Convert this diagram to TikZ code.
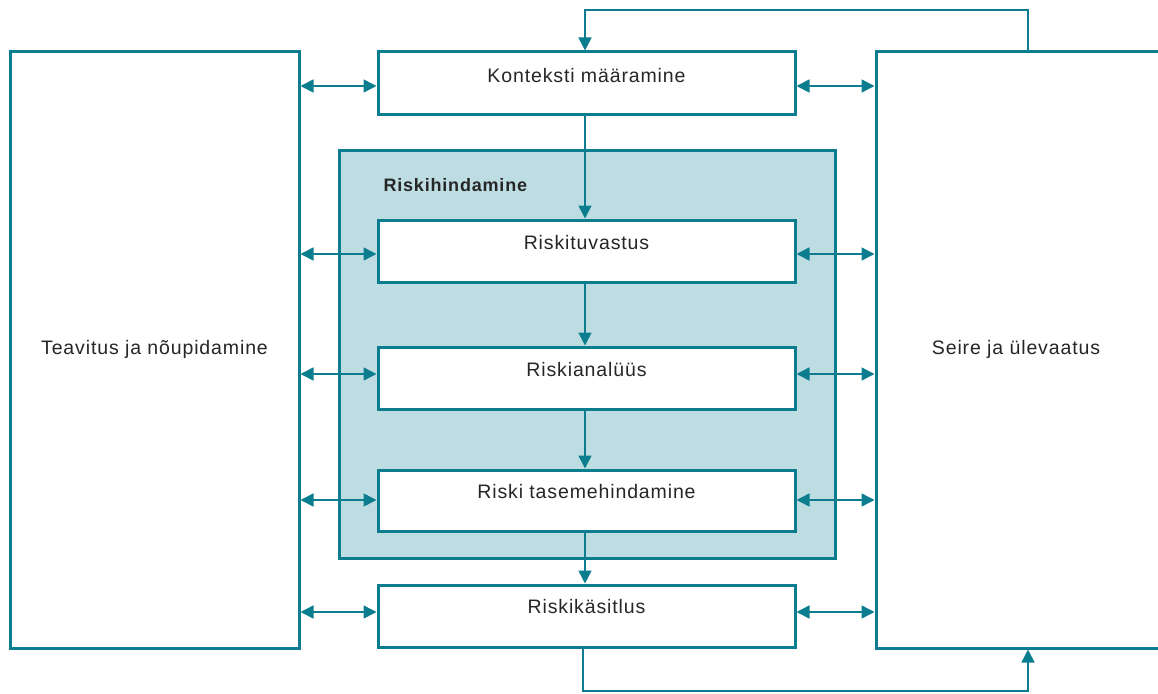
\documentclass[tikz,border=0pt]{standalone}
\usepackage{fontspec}
\setmainfont[LetterSpace=4.5]{Liberation Sans}
\usetikzlibrary{arrows.meta}
\definecolor{teal1}{HTML}{0B7D8E}
\definecolor{fillc}{HTML}{BEDDE2}
\definecolor{txt}{HTML}{262626}
\begin{document}
\begin{tikzpicture}[x=1pt,y=-1pt,
  box/.style={draw=teal1,line width=3pt,fill=white},
  lbl/.style={text=txt,font=\fontsize{19.5}{23}\selectfont},
  conn/.style={draw=teal1,line width=1.6pt},
  tip/.style={-{Triangle[length=13pt,width=13pt]}},
  both/.style={{Triangle[length=13pt,width=13pt]}-{Triangle[length=13pt,width=13pt]}}]
\useasboundingbox (0,0) rectangle (1158,693);
\begin{scope}
\clip (0,0) rectangle (1158,693);
% big side boxes
\draw[box] (10,52) rectangle (299,648);
\draw[box] (876,52) rectangle (1170,648);
\node[lbl] (lt) at (154.5,349) {Teavitus ja nõupidamine};
\node[lbl] (rt) at (1016,349) {Seire ja ülevaatus};
% container
\draw[box,fill=fillc] (339,150) rectangle (835,558);
\node[lbl,anchor=west,font=\fontsize{18}{21}\selectfont\bfseries] (rh) at (380,185) {Riskihindamine};
% inner boxes
\draw[box] (378,52) rectangle (795,114);
\draw[box] (378,220) rectangle (795,282);
\draw[box] (378,347) rectangle (795,409);
\draw[box] (378,470) rectangle (795,531);
\draw[box] (378,585) rectangle (795,647);
\node[lbl] (k) at (586.5,76) {Konteksti määramine};
\node[lbl] (t) at (586.5,243) {Riskituvastus};
\node[lbl] (a) at (586.5,370) {Riskianalüüs};
\node[lbl] (h) at (586.5,492) {Riski tasemehindamine};
\node[lbl] (s) at (586.5,607) {Riskikäsitlus};
% connectors between columns
\foreach \n/\y in {k/86,t/254,a/374,h/500,s/612}{
  \coordinate (\n L1) at (300.5,\y);
  \coordinate (\n L2) at (376.5,\y);
  \coordinate (\n R1) at (796.5,\y);
  \coordinate (\n R2) at (874.5,\y);
  \draw[conn,both] (\n L1) -- (\n L2);
  \draw[conn,both] (\n R1) -- (\n R2);
}
\coordinate (kb) at (585,115.5);
\coordinate (tt) at (585,218.5);
\coordinate (tb) at (585,283.5);
\coordinate (at) at (585,345.5);
\coordinate (ab) at (585,410.5);
\coordinate (ht) at (585,468.5);
\coordinate (hb) at (585,532.5);
\coordinate (st) at (585,583.5);
\draw[conn,tip] (kb) -- (tt);
\draw[conn,tip] (tb) -- (at);
\draw[conn,tip] (ab) -- (ht);
\draw[conn,tip] (hb) -- (st);
% feedback loops
\coordinate (rtop) at (1028,50.5);
\coordinate (ktop) at (585,50.5);
\draw[conn,tip] (rtop) -- (1028,10) -- (585,10) -- (ktop);
\coordinate (sbot) at (583,648.5);
\coordinate (rbot) at (1028,649.5);
\draw[conn,tip] (sbot) -- (583,691) -- (1028,691) -- (rbot);
\end{scope}
\end{tikzpicture}
\end{document}
